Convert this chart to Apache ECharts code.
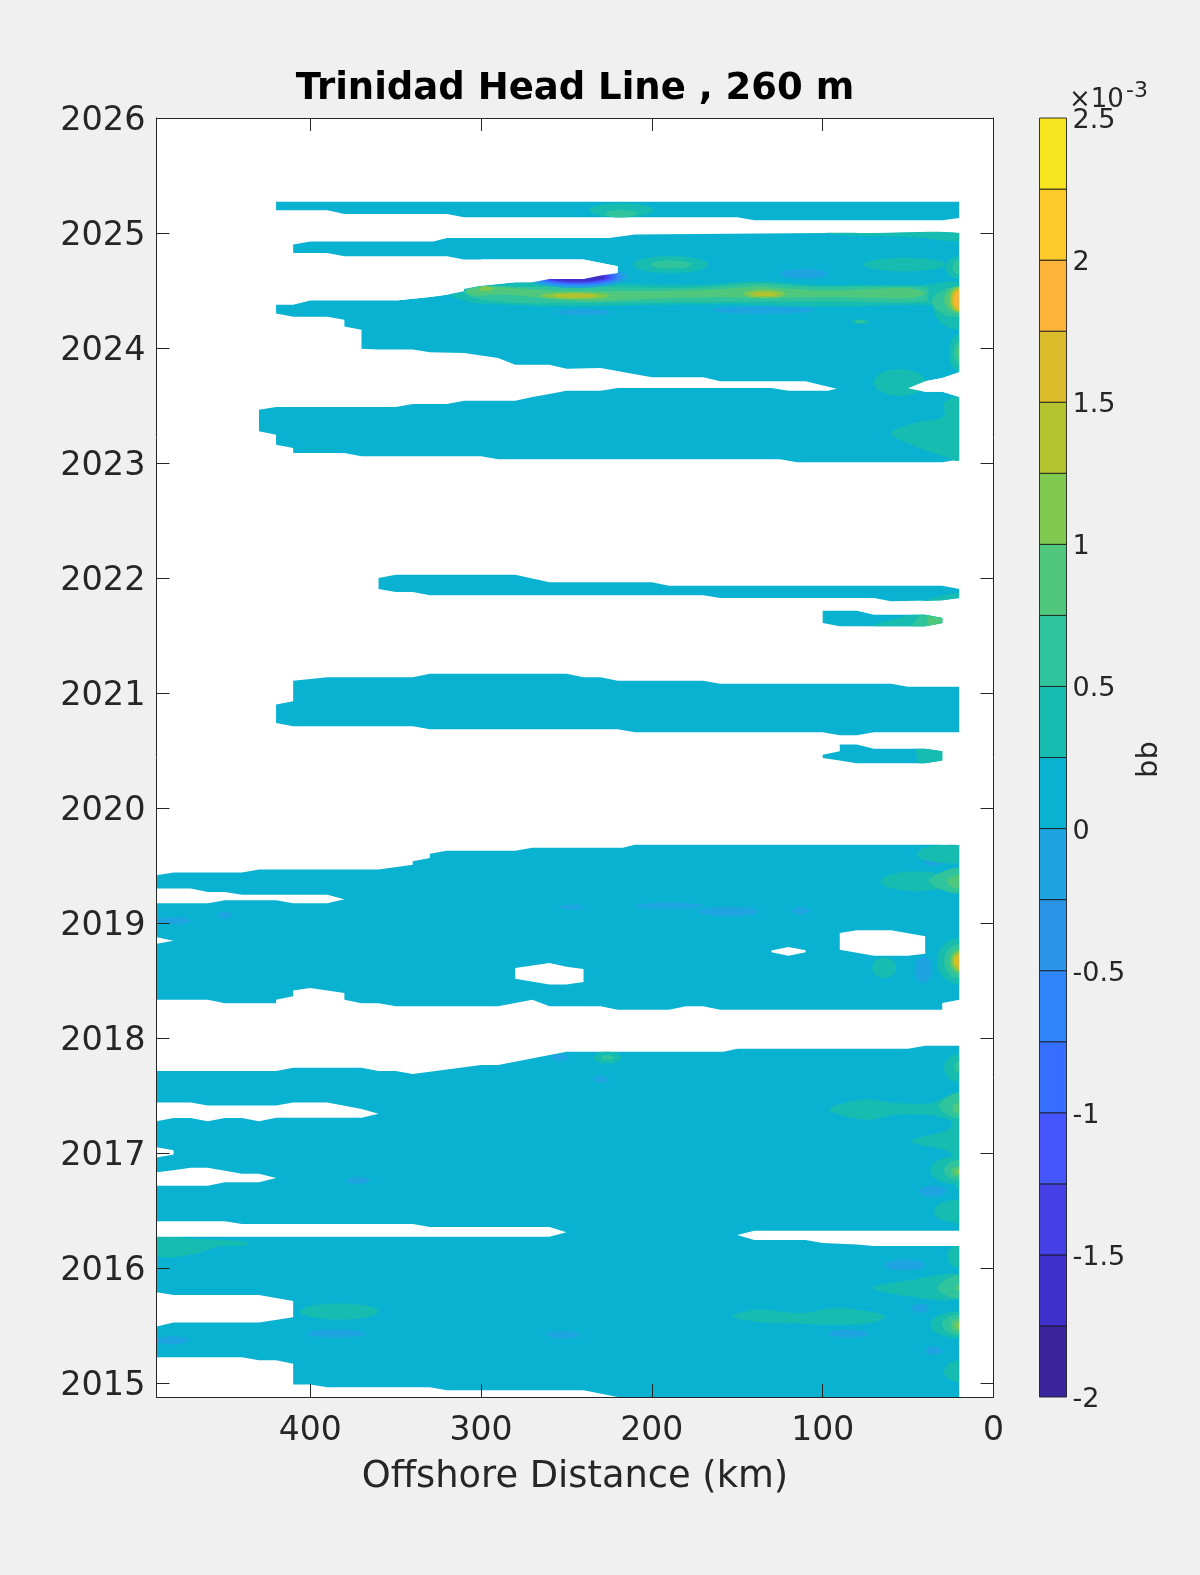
<!DOCTYPE html>
<html><head><meta charset="utf-8">
<script src="https://cdn.jsdelivr.net/npm/echarts@6/dist/echarts.min.js"></script>
<style>html,body{margin:0;padding:0;background:#f0f0f0}#c{width:1200px;height:1575px}</style>
</head><body><div id="c"></div>
<script>
const titleText = 'Trinidad Head Line , 260 m';
const xTicks = [0,100,200,300,400];
const yTicks = [2015,2016,2017,2018,2019,2020,2021,2022,2023,2024,2025,2026];
const levelLower = [-2,-1.75,-1.5,-1.25,-1,-0.75,-0.5,-0.25,0,0.25,0.5,0.75,1,1.25,1.5,1.75,2,2.25];
const levelColors = ['#3a249c','#3f30cc','#4440e6','#4556ff','#366eff','#2f85fa','#2a94e8','#1ea3e1','#0ab2d1','#17bcb0','#30c49d','#4fc87e','#7fc951','#b3c22f','#dcbc2a','#fcb53a','#fdcb2a','#f6e51f'];

// Data regions bounded by the missing-data mask: [km, year] rings (all values 0..0.25e-3 by default)
const regionA = [[420,2025.272],[20,2025.272],[20,2025.13],[30,2025.11],[140,2025.11],[150,2025.136],[310,2025.136],[320,2025.165],[380,2025.165],[390,2025.197],[420,2025.197]];
const regionB = [[410,2024.899],[400,2024.925],[328,2024.925],[320,2024.957],[225,2024.957],[210,2024.986],[100,2025.0],[20,2025.0],[20,2023.788],[30,2023.739],[40,2023.71],[50,2023.64],[90,2023.64],[110,2023.71],[160,2023.71],[170,2023.745],[200,2023.745],[230,2023.826],[250,2023.82],[260,2023.855],[280,2023.855],[290,2023.913],[310,2023.957],[330,2023.962],[340,2023.986],[360,2023.986],[370,2023.994],[370,2024.159],[380,2024.188],[380,2024.246],[390,2024.272],[410,2024.272],[420,2024.299],[420,2024.377],[410,2024.377],[400,2024.414],[350,2024.414],[330,2024.443],[320,2024.464],[310,2024.493],[310,2024.513],[300,2024.542],[280,2024.571],[270,2024.571],[260,2024.6],[240,2024.6],[230,2024.63],[220,2024.652],[220,2024.71],[240,2024.77],[310,2024.77],[320,2024.797],[380,2024.797],[390,2024.826],[410,2024.826]];
const regionC = [[430,2023.464],[420,2023.487],[350,2023.487],[340,2023.513],[320,2023.513],[310,2023.542],[280,2023.542],[270,2023.574],[260,2023.6],[250,2023.629],[230,2023.629],[220,2023.652],[130,2023.652],[120,2023.629],[97,2023.629],[90,2023.652],[50,2023.652],[40,2023.62],[30,2023.62],[20,2023.574],[20,2023.03],[30,2023.006],[115,2023.006],[125,2023.032],[290,2023.032],[300,2023.058],[370,2023.058],[380,2023.087],[410,2023.087],[410,2023.13],[420,2023.159],[420,2023.246],[430,2023.275]];
const regionD = [[360,2022],[350,2022.029],[280,2022.029],[260,2021.962],[200,2021.962],[190,2021.933],[30,2021.933],[20,2021.904],[20,2021.826],[30,2021.806],[60,2021.797],[70,2021.826],[160,2021.826],[170,2021.849],[330,2021.849],[340,2021.878],[350,2021.878],[360,2021.904]];
const regionE = [[100,2021.716],[80,2021.716],[70,2021.681],[40,2021.681],[30,2021.652],[30,2021.609],[40,2021.58],[90,2021.58],[100,2021.609]];
const regionF = [[420,2020.899],[410,2020.928],[410,2021.107],[390,2021.136],[340,2021.136],[330,2021.168],[250,2021.168],[240,2021.136],[230,2021.136],[220,2021.107],[170,2021.107],[160,2021.081],[60,2021.081],[50,2021.055],[20,2021.055],[20,2020.658],[70,2020.658],[80,2020.632],[90,2020.632],[100,2020.658],[210,2020.658],[220,2020.684],[330,2020.684],[340,2020.71],[410,2020.71],[420,2020.739]];
const regionG = [[100,2020.464],[90,2020.493],[90,2020.551],[80,2020.551],[70,2020.516],[40,2020.516],[30,2020.493],[30,2020.412],[40,2020.388],[80,2020.388],[90,2020.412],[100,2020.435]];
const regionH = [[490,2019.414],[480,2019.438],[440,2019.438],[430,2019.464],[360,2019.464],[340,2019.507],[340,2019.536],[330,2019.565],[330,2019.603],[320,2019.629],[280,2019.629],[270,2019.655],[217,2019.655],[210,2019.681],[30,2019.681],[20,2019.655],[20,2018.333],[30,2018.304],[30,2018.246],[160,2018.246],[170,2018.275],[180,2018.275],[190,2018.246],[220,2018.246],[230,2018.275],[260,2018.275],[270,2018.333],[290,2018.275],[350,2018.275],[360,2018.301],[370,2018.301],[380,2018.333],[380,2018.391],[400,2018.435],[410,2018.412],[410,2018.362],[420,2018.333],[420,2018.301],[450,2018.301],[460,2018.333],[490,2018.333]];
const regionI = [[490,2017.713],[420,2017.713],[410,2017.742],[370,2017.742],[360,2017.713],[350,2017.713],[340,2017.687],[320,2017.725],[300,2017.765],[290,2017.765],[250,2017.881],[158,2017.881],[150,2017.907],[50,2017.907],[40,2017.933],[20,2017.933],[20,2014.878],[220,2014.878],[240,2014.936],[320,2014.936],[330,2014.962],[390,2014.962],[400,2014.986],[410,2014.986],[410,2015.168],[420,2015.197],[430,2015.197],[440,2015.223],[490,2015.223]];
const regions = [regionA,regionB,regionC,regionD,regionE,regionF,regionG,regionH,regionI];

// Contour blobs per level: [km, year, half-width km, half-height years]
const blobsNeg025 = [[35,2019.53,6,.03],[190,2019.15,20,.025],[155,2019.10,18,.04],[113,2019.107,5,.03],[247,2019.14,7,.02],[480,2019.02,10,.03],[450,2019.07,4,.03],[41,2018.594,5,.115],[135,2024.328,30,.03],[240,2024.31,16,.025],[111,2024.646,14,.04],[230,2017.64,4,.03],[372,2016.76,7,.03],[254,2017.83,5,.03],[36,2016.667,8,.045],[385,2015.43,17,.035],[481,2015.37,10,.035],[252,2015.42,10,.03],[52,2016.026,12,.045],[43,2015.65,5,.04],[85,2015.43,12,.035],[35,2015.28,5,.035]];
const blobsPos025 = [[218,2025.197,19,.062],[189,2024.725,22,.075],[52,2024.725,24,.06],[20,2024.70,8,.1],[20,2024.36,15,.2],[78,2024.229,5,.02],[20,2023.957,6,.16],[55,2023.70,15,.115],[45,2019.362,21,.085],[25,2019.6,20,.08],[20,2018.667,13,.2],[64,2018.61,7,.09],[226,2017.829,8,.052],[20,2017.739,9,.12],[20,2017.1,5,.42],[20,2016.849,17,.125],[20,2016.493,15,.1],[20,2016.1,7,.1],[20,2015.506,17,.115],[20,2015.1,9,.09],[383,2015.621,23,.07]];
const blobsPos05 = [[218,2025.168,9,.032],[189,2024.725,12,.036],[20,2024.70,4,.06],[20,2023.957,3.5,.1],[78,2024.229,3,.012],[20,2024.40,16,.13],[20,2018.667,9,.15],[226,2017.829,4,.02],[20,2017.75,3,.05],[20,2016.85,9,.09],[20,2015.506,10,.09]];
const blobsPos075 = [[20,2024.42,9,.12],[20,2023.96,1.5,.05],[20,2019.36,7,.06],[20,2018.667,6,.11],[20,2017.39,4,.045],[20,2016.84,5,.045],[20,2015.5,5,.06],[20,2015.83,2,.03]];
const blobsPos10 = [[134,2024.47,12,.036],[245,2024.455,20,.03],[297,2024.516,4,.02],[20,2024.42,6,.11],[20,2018.667,4.5,.09],[20,2016.84,2,.02],[20,2015.5,2,.03]];
const blobsPos125 = [[134,2024.47,8,.018],[245,2024.455,13,.018],[20,2024.42,5,.1],[20,2018.667,3.5,.075]];
const blobsPos15 = [[20,2024.42,4,.09],[20,2018.667,3,.05]];
const blobsPos175 = [[20,2024.42,3.2,.07]];
// Minimum under the 2024.7 notch, one blob per level from -0.25 down to -2
const troughLevels = [-0.25,-0.5,-0.75,-1,-1.25,-1.5,-1.75];
const troughBlobs = [[244,2024.617,30,.095],[244,2024.617,27,.08],[244,2024.617,25,.07],[244,2024.617,23,.063],[244,2024.617,21,.055],[244,2024.617,19,.047],[244,2024.617,17,.04]];

// Free-form contours: [km, year] rings
const contoursPos025 = [
 [[318,2024.46],[310,2024.49],[300,2024.536],[270,2024.571],[240,2024.6],[226,2024.565],[170,2024.551],[139,2024.58],[108,2024.551],[40,2024.551],[20,2024.565],[20,2024.362],[40,2024.377],[97,2024.362],[146,2024.377],[195,2024.377],[254,2024.362],[285,2024.377],[304,2024.391]],
 [[100,2025.0],[70,2025.0],[20,2025.0],[20,2024.93],[45,2024.96],[85,2024.98]],
 [[29,2023.522],[29,2023.406],[46,2023.348],[60,2023.261],[48,2023.159],[29,2023.058],[20,2023.029],[20,2023.565]],
 [[96,2017.377],[76,2017.464],[57,2017.435],[37,2017.435],[20,2017.522],[20,2017.29],[37,2017.333],[57,2017.333],[76,2017.29]],
 [[48,2017.101],[29,2017.188],[20,2017.246],[20,2016.986],[29,2017.029]],
 [[71,2015.829],[48,2015.896],[20,2015.939],[20,2015.737],[48,2015.751]],
 [[153,2015.578],[138,2015.636],[113,2015.607],[93,2015.65],[73,2015.621],[63,2015.578],[73,2015.52],[97,2015.506],[117,2015.52],[136,2015.529]],
 [[490,2016.269],[471,2016.257],[437,2016.228],[437,2016.199],[454,2016.185],[469,2016.118],[490,2016.107]]
];
const contoursPos05 = [
 [[310,2024.49],[300,2024.536],[272,2024.53],[253,2024.536],[195,2024.522],[169,2024.528],[138,2024.562],[107,2024.533],[40,2024.53],[38,2024.478],[40,2024.406],[97,2024.406],[195,2024.398],[253,2024.391],[277,2024.391],[304,2024.435]],
 [[38,2019.362],[20,2019.478],[20,2019.261]],
 [[32,2017.406],[20,2017.522],[20,2017.304]],
 [[33,2015.824],[20,2015.939],[20,2015.737]]
];
const contoursPos075 = [
 [[309,2024.5],[300,2024.536],[296,2024.536],[267,2024.507],[253,2024.5],[205,2024.493],[169,2024.507],[150,2024.522],[138,2024.536],[126,2024.522],[97,2024.5],[68,2024.516],[48,2024.516],[40,2024.478],[48,2024.435],[68,2024.435],[97,2024.443],[138,2024.435],[165,2024.443],[214,2024.42],[236,2024.406],[253,2024.42],[265,2024.435],[285,2024.464],[304,2024.457]]
];
const wedgesPos025 = [
 [[71,2021.594],[48,2021.681],[40,2021.681],[30,2021.652],[30,2021.609],[40,2021.58],[70,2021.58]],
 [[46,2020.516],[40,2020.516],[30,2020.493],[30,2020.412],[40,2020.388],[44,2020.388]],
 [[43,2021.797],[28,2021.855],[20,2021.87],[20,2021.826],[30,2021.806]]
];
const wedgesPos05 = [[[48,2021.58],[43,2021.681],[40,2021.681],[30,2021.652],[30,2021.609],[40,2021.58]]];
const wedgesPos075 = [[[39,2021.67],[30,2021.652],[30,2021.609],[38,2021.585]]];

// Missing data painted back over the contours: [km, year] rings
const gaps = [
 [[220,2024.652],[220,2024.71],[240,2024.77],[300,2024.77],[300,2024.542],[280,2024.571],[270,2024.571],[260,2024.6],[240,2024.6],[230,2024.63]],
 [[310,2024.513],[320,2024.464],[330,2024.443],[350,2024.414],[350,2024.6],[310,2024.6]],
 [[50,2023.65],[40,2023.71],[30,2023.739],[20,2023.788],[10,2023.788],[10,2023.574],[20,2023.574],[30,2023.62],[40,2023.62]],
 [[490,2019.299],[470,2019.299],[460,2019.27],[450,2019.27],[440,2019.246],[390,2019.246],[380,2019.206],[390,2019.171],[410,2019.171],[420,2019.197],[450,2019.197],[460,2019.171],[490,2019.171]],
 [[490,2018.875],[480,2018.846],[490,2018.82]],
 [[280,2018.609],[260,2018.652],[250,2018.62],[240,2018.6],[240,2018.487],[250,2018.464],[260,2018.464],[280,2018.516]],
 [[130,2018.76],[120,2018.791],[110,2018.762],[110,2018.745],[120,2018.716],[130,2018.745]],
 [[90,2018.913],[80,2018.936],[60,2018.936],[40,2018.884],[40,2018.733],[50,2018.716],[70,2018.716],[90,2018.768]],
 [[490,2017.438],[470,2017.438],[460,2017.412],[420,2017.412],[410,2017.438],[390,2017.438],[370,2017.383],[360,2017.342],[370,2017.307],[420,2017.307],[430,2017.275],[440,2017.304],[450,2017.304],[460,2017.275],[470,2017.304],[480,2017.304],[490,2017.275]],
 [[490,2017.049],[480,2017.023],[480,2016.986],[490,2016.96]],
 [[490,2016.832],[480,2016.849],[470,2016.872],[460,2016.872],[450,2016.846],[440,2016.82],[430,2016.82],[420,2016.783],[430,2016.745],[450,2016.745],[460,2016.716],[490,2016.716]],
 [[490,2016.407],[450,2016.407],[440,2016.382],[340,2016.382],[330,2016.356],[260,2016.356],[250,2016.31],[260,2016.272],[490,2016.272]],
 [[150,2016.287],[140,2016.324],[10,2016.324],[10,2016.19],[70,2016.19],[80,2016.205],[100,2016.217],[110,2016.243],[140,2016.243]],
 [[490,2015.788],[480,2015.765],[430,2015.765],[410,2015.713],[410,2015.571],[430,2015.525],[480,2015.525],[490,2015.49]],
 [[20,2014.878],[0,2014.878],[0,2026],[20,2026]]
];

const colorOf = v => levelColors[levelLower.indexOf(v)];
const ringSeries = (list, fill, smooth) => ({
  type:'custom', coordinateSystem:'cartesian2d', xAxisIndex:0, yAxisIndex:0, clip:true, silent:true,
  data:list.map((_,i)=>[i,i]),
  renderItem:(p,api)=>({type:'polygon',shape:{points:list[api.value(0)].map(q=>api.coord(q)),smooth:smooth},style:{fill:fill,stroke:null}})
});
const blobSeries = (list, fillFor) => ({
  type:'custom', coordinateSystem:'cartesian2d', xAxisIndex:0, yAxisIndex:0, clip:true, silent:true,
  data:list.map((_,i)=>[i,i]),
  renderItem:(p,api)=>{
    const i=api.value(0), b=list[i];
    const c=api.coord([b[0],b[1]]), e=api.coord([b[0]+b[2],b[1]+b[3]]);
    return {type:'ellipse',shape:{cx:c[0],cy:c[1],rx:Math.abs(e[0]-c[0]),ry:Math.abs(e[1]-c[1])},style:{fill:fillFor(i)}};
  }
});
const series = [
  ringSeries(regions, colorOf(0), 0),
  blobSeries(blobsNeg025, ()=>colorOf(-0.25)),
  ringSeries(wedgesPos025, colorOf(0.25), 0),
  ringSeries(contoursPos025, colorOf(0.25), 0.35),
  blobSeries(blobsPos025, ()=>colorOf(0.25)),
  ringSeries(wedgesPos05, colorOf(0.5), 0),
  ringSeries(contoursPos05, colorOf(0.5), 0.35),
  blobSeries(blobsPos05, ()=>colorOf(0.5)),
  ringSeries(wedgesPos075, colorOf(0.75), 0),
  ringSeries(contoursPos075, colorOf(0.75), 0.35),
  blobSeries(blobsPos075, ()=>colorOf(0.75)),
  blobSeries(blobsPos10, ()=>colorOf(1)),
  blobSeries(blobsPos125, ()=>colorOf(1.25)),
  blobSeries(blobsPos15, ()=>colorOf(1.5)),
  blobSeries(blobsPos175, ()=>colorOf(1.75)),
  blobSeries(troughBlobs, i=>colorOf(troughLevels[i])),
  ringSeries(gaps, '#ffffff', 0),
  { type:'custom', coordinateSystem:'cartesian2d', xAxisIndex:2, yAxisIndex:2, silent:true,
    data:levelLower.map((v,i)=>[0,v,i]),
    renderItem:(p,api)=>{
      const i=api.value(2), a=api.coord([0,levelLower[i]]), b=api.coord([1,levelLower[i]+0.25]);
      return {type:'rect',shape:{x:a[0],y:b[1],width:b[0]-a[0],height:a[1]-b[1]},style:{fill:levelColors[i],stroke:'rgba(25,25,25,0.85)',lineWidth:1}};
    } }
];

const ink='#262626';
const mainX = (pos,show)=>({type:'value',gridIndex:0,position:pos,inverse:true,min:0,max:490,z:50,
  axisLine:{onZero:false,lineStyle:{color:ink,width:1}},
  axisTick:{show:true,inside:true,length:13,customValues:xTicks,lineStyle:{color:ink,width:1}},
  axisLabel:{show:show,customValues:xTicks,color:ink,fontFamily:'DejaVu Sans',fontSize:33,margin:18,showMinLabel:true,showMaxLabel:true},
  splitLine:{show:false}});
const mainY = (pos,show)=>({type:'value',gridIndex:0,position:pos,min:2014.878,max:2026,z:50,
  axisLine:{onZero:false,lineStyle:{color:ink,width:1}},
  axisTick:{show:true,inside:true,length:13,customValues:yTicks,lineStyle:{color:ink,width:1}},
  axisLabel:{show:show,customValues:yTicks,color:ink,fontFamily:'DejaVu Sans',fontSize:33.5,margin:11,verticalAlign:'top',padding:[-14,0,0,0],formatter:v=>String(Math.round(v))},
  splitLine:{show:false}});

const option = {
  backgroundColor:'#f0f0f0', animation:false,
  title:{text:titleText,left:570,top:66,textAlign:'center',textStyle:{fontFamily:'DejaVu Sans',fontWeight:'bold',fontSize:37,color:'#000'}},
  grid:[
    {left:156.5,top:118,width:837,height:1279,backgroundColor:'#fff',show:true,borderWidth:0},
    {left:1039.5,top:118,width:27,height:1279,show:false}
  ],
  xAxis:[
    Object.assign(mainX('bottom',true),{name:'Offshore Distance (km)',nameLocation:'middle',nameGap:62,nameTextStyle:{fontFamily:'DejaVu Sans',fontSize:36.8,color:ink}}),
    mainX('top',false),
    {type:'value',gridIndex:1,min:0,max:1,show:false}
  ],
  yAxis:[
    mainY('left',true),
    mainY('right',false),
    {type:'value',gridIndex:1,position:'right',min:-2,max:2.5,interval:0.5,
      axisLine:{show:false},axisTick:{show:false},splitLine:{show:false},
      axisLabel:{color:ink,fontFamily:'DejaVu Sans',fontSize:27,margin:6,verticalAlign:'top',padding:[-10.5,0,0,0],formatter:v=>String(v)},
      name:'bb',nameLocation:'middle',nameRotate:90,nameGap:68,nameTextStyle:{fontFamily:'DejaVu Sans',fontSize:29,color:ink,padding:[0,4,0,0]}}
  ],
  graphic:[
    {type:'text',left:1069,top:87,style:{text:'×10',fontFamily:'DejaVu Sans',fontSize:26,fill:ink}},
    {type:'text',left:1126,top:80,style:{text:'-3',fontFamily:'DejaVu Sans',fontSize:22,fill:ink}}
  ],
  series
};
echarts.init(document.getElementById('c'),null,{renderer:'canvas'}).setOption(option);
</script></body></html>
